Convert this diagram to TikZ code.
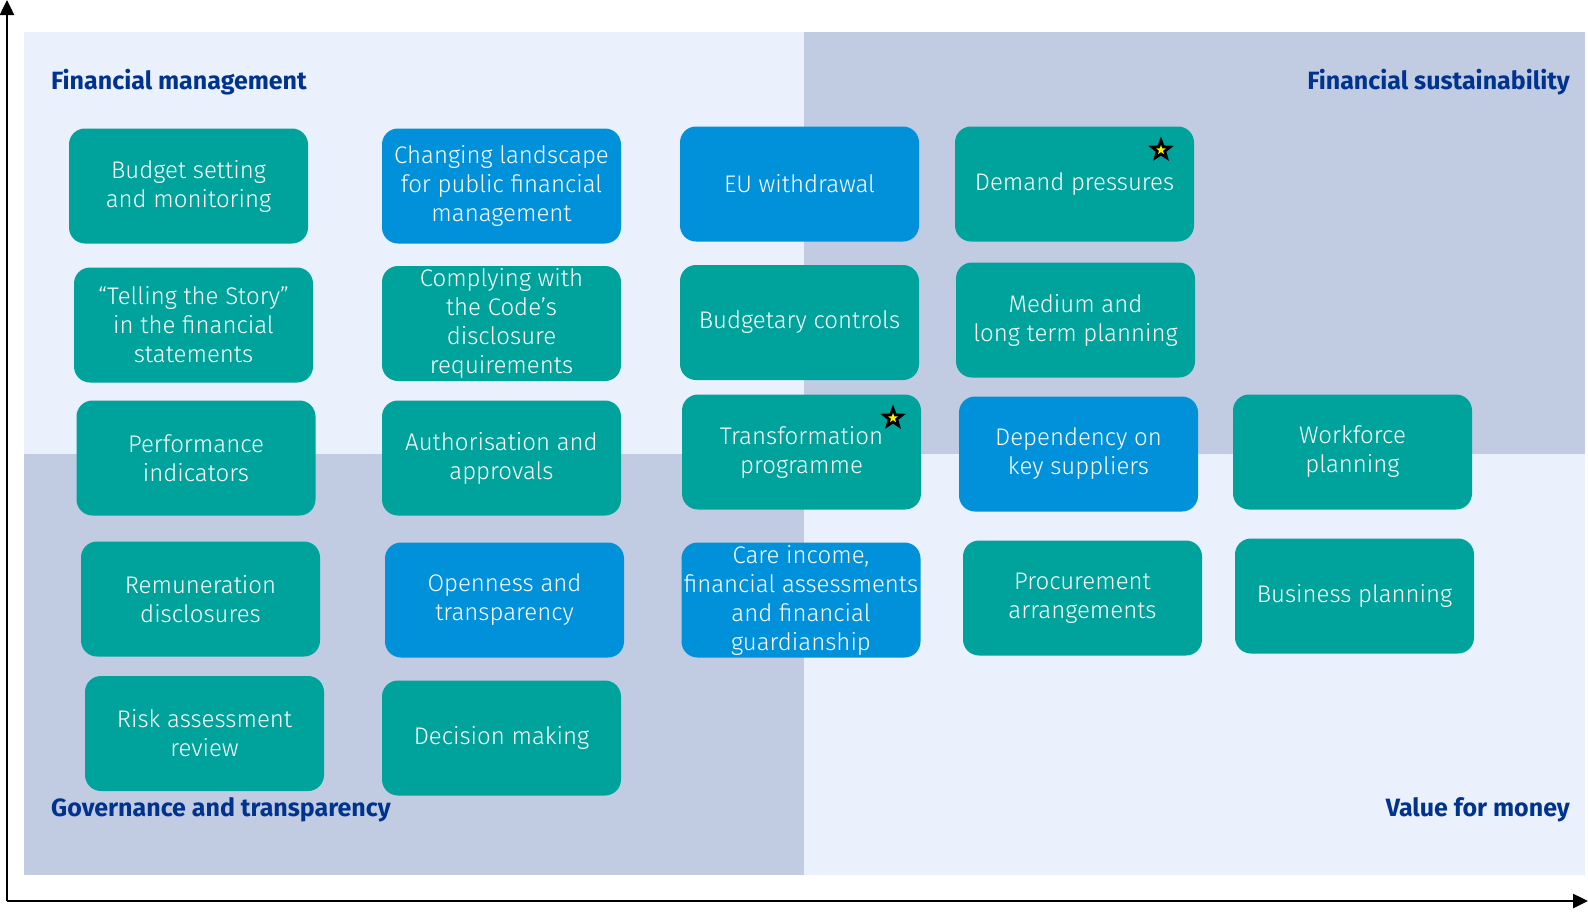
\documentclass[tikz,border=0pt]{standalone}
\usepackage{fontspec}
\setmainfont{Fira Sans}
\newfontfamily\boxfont{Fira Sans Light}
\usetikzlibrary{shapes.geometric,arrows.meta}

\definecolor{panellight}{HTML}{EAF0FC}
\definecolor{paneldark}{HTML}{C1CCE3}
\definecolor{boxteal}{HTML}{00A39C}
\definecolor{boxblue}{HTML}{0091DA}
\definecolor{headblue}{HTML}{00338D}

\tikzset{
  topic/.style={rounded corners=16pt, minimum width=239, minimum height=115,
    align=center, text=white, inner sep=2pt,
    font=\boxfont\fontsize{24}{29}\selectfont},
  greentopic/.style={topic, fill=boxteal},
  bluetopic/.style={topic, fill=boxblue},
  heading/.style={font=\bfseries\fontsize{25}{30}\selectfont, text=headblue, inner sep=0pt},
  flagstar/.style={star, star points=5, star point ratio=2.4, inner sep=0pt},
  axis/.style={line width=2.5pt, -{Triangle[width=14pt,length=15pt]}}
}

\begin{document}
\begin{tikzpicture}[x=1pt,y=-1pt]
\useasboundingbox (0,0) rectangle (1588,914);

% Quadrant panels
\fill[panellight] (24,32) rectangle (804,454);
\fill[paneldark] (804,32) rectangle (1585,454);
\fill[paneldark] (24,454) rectangle (804,875);
\fill[panellight] (804,454) rectangle (1585,875);

% Axes
\coordinate (origin) at (7,901);
\coordinate (ytop) at (7,0);
\coordinate (xend) at (1588,901);
\draw[axis] (origin) -- (ytop);
\draw[axis] (origin) -- (xend);

% Quadrant headings
\node[heading, anchor=west] (finman) at (51,82) {Financial management};
\node[heading, anchor=east] (finsus) at (1570,82) {Financial sustainability};
\node[heading, anchor=west] (govtra) at (51,810) {Governance and transparency};
\node[heading, anchor=east] (vfm) at (1570,810) {Value for money};

% Column 1
\node[greentopic] (budget) at (188.5,186) {Budget setting\\and monitoring};
\node[greentopic] (story) at (193.5,325) {“Telling the Story”\\in the financial\\statements};
\node[greentopic] (perf) at (196,458) {Performance\\indicators};
\node[greentopic] (remun) at (200.5,599) {Remuneration\\disclosures};
\node[greentopic] (risk) at (204.5,733.5) {Risk assessment\\review};

% Column 2
\node[bluetopic] (landscape) at (501.5,186) {Changing landscape\\for public financial\\management};
\node[greentopic] (code) at (501.5,323.5) {Complying with\\the Code’s\\disclosure\\requirements};
\node[greentopic] (auth) at (501.5,458) {Authorisation and\\approvals};
\node[bluetopic] (open) at (504.5,600) {Openness and\\transparency};
\node[greentopic] (decision) at (501.5,738) {Decision making};

% Column 3
\node[bluetopic] (eu) at (799.5,184) {EU withdrawal};
\node[greentopic] (controls) at (799.5,322.5) {Budgetary controls};
\node[greentopic] (transform) at (801.5,452) {Transformation\\programme};
\node[bluetopic] (care) at (801,600) {Care income,\\financial assessments\\and financial\\guardianship};

% Column 4
\node[greentopic] (demand) at (1074.5,184) {Demand pressures};
\node[greentopic] (medium) at (1075.5,320) {Medium and\\long term planning};
\node[bluetopic] (suppliers) at (1078.5,454) {Dependency on\\key suppliers};
\node[greentopic] (procure) at (1082.5,598) {Procurement\\arrangements};

% Column 5
\node[greentopic] (workforce) at (1352.5,452) {Workforce\\planning};
\node[greentopic] (business) at (1354.5,596) {Business planning};

% Stars
\node[flagstar, fill=black, minimum size=27pt] (stardemand) at (1161,150) {};
\node[flagstar, fill=yellow, minimum size=10pt] at (stardemand) {};
\node[flagstar, fill=black, minimum size=27pt] (startransform) at (893,418) {};
\node[flagstar, fill=yellow, minimum size=10pt] at (startransform) {};
\end{tikzpicture}
\end{document}
